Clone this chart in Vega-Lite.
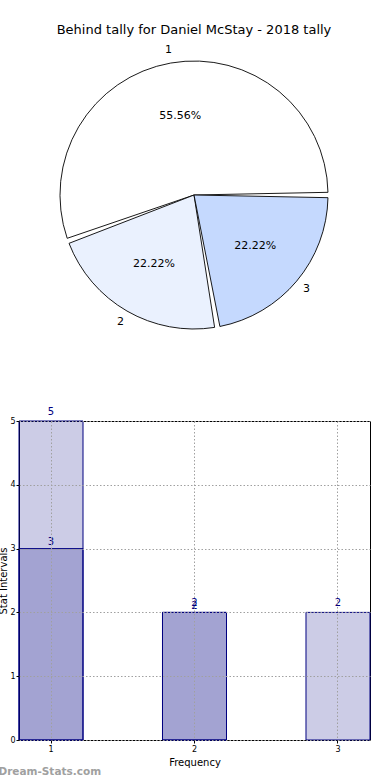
{
  "$schema": "https://vega.github.io/schema/vega-lite/v6.json",
  "padding": {"left": -2, "top": 24, "right": 0, "bottom": 0},
  "background": "white",
  "config": {"font": "DejaVu Sans", "view": {"stroke": null}},
  "spacing": 67,
  "title": {"text": "Dream-Stats.com", "orient": "bottom", "anchor": "start", "fontSize": 10.5, "fontWeight": "bold", "color": "#a0a0a0", "offset": -1},
  "vconcat": [
    {
      "width": 350,
      "height": 288,
      "title": {"text": "Behind tally for Daniel McStay - 2018 tally", "fontSize": 13, "fontWeight": "normal", "anchor": "middle", "offset": 7, "color": "black"},
      "data": {"values": [
        {"label": "1", "n": 5, "pct": "55.56%"},
        {"label": "2", "n": 2, "pct": "22.22%"},
        {"label": "3", "n": 2, "pct": "22.22%"}
      ]},
      "encoding": {
        "theta": {"field": "n", "type": "quantitative", "stack": true, "scale": {"range": [1.5708, 7.854]}},
        "order": {"field": "label", "sort": "descending"}
      },
      "layer": [
        {
          "mark": {"type": "arc", "outerRadius": 134, "padAngle": 0.04, "stroke": "black", "strokeWidth": 0.9},
          "encoding": {
            "color": {"field": "label", "type": "nominal", "scale": {"domain": ["1", "2", "3"], "range": ["#ffffff", "#eaf1fe", "#c5d9fe"]}, "legend": null}
          }
        },
        {
          "mark": {"type": "text", "radius": 80, "fontSize": 11, "color": "black"},
          "encoding": {"text": {"field": "pct"}}
        },
        {
          "mark": {"type": "text", "radius": 147, "fontSize": 11, "color": "black"},
          "encoding": {"text": {"field": "label"}}
        }
      ]
    },
    {
      "width": 351,
      "height": 319,
      "view": {"stroke": "black", "strokeWidth": 1},
      "data": {"values": [
        {"x": "1", "series": "a", "v": 5},
        {"x": "1", "series": "b", "v": 3},
        {"x": "2", "series": "a", "v": 2},
        {"x": "2", "series": "b", "v": 2},
        {"x": "3", "series": "a", "v": 2}
      ]},
      "encoding": {
        "x": {"field": "x", "type": "ordinal", "scale": {"domain": ["1", "2", "3"], "paddingInner": 0.554, "paddingOuter": 0},
          "axis": {"title": "Frequency", "titleFontSize": 10, "titleFontWeight": "normal", "titlePadding": 4, "labelAngle": 0, "labelFontSize": 8, "labelPadding": 2, "tickSize": 3, "tickColor": "black", "labelColor": "black", "domain": false, "grid": true, "bandPosition": 0.5, "gridColor": "#a0a0a0", "gridDash": [1.5, 2], "zindex": 1}},
        "y": {"field": "v", "type": "quantitative", "stack": null, "scale": {"domain": [0, 5], "nice": false},
          "axis": {"title": "Stat Intervals", "titleFontSize": 10, "titleFontWeight": "normal", "titlePadding": 1, "values": [0, 1, 2, 3, 4, 5], "labelFontSize": 8, "labelPadding": 1, "tickSize": 3, "tickColor": "black", "labelColor": "black", "domain": false, "grid": true, "gridColor": "#a0a0a0", "gridDash": [1.5, 2], "zindex": 1}}
      },
      "layer": [
        {"mark": {"type": "bar", "fill": "navy", "fillOpacity": 0.2, "stroke": "navy", "strokeWidth": 1}},
        {"transform": [{"filter": "datum.series == 'a'"}],
         "mark": {"type": "text", "baseline": "middle", "dy": -9, "fontSize": 10, "color": "navy"},
         "encoding": {"text": {"field": "v"}}},
        {"transform": [{"filter": "datum.series == 'b'"}],
         "mark": {"type": "text", "baseline": "middle", "dy": -6.5, "fontSize": 10, "color": "navy"},
         "encoding": {"text": {"field": "v"}}}
      ]
    }
  ]
}
